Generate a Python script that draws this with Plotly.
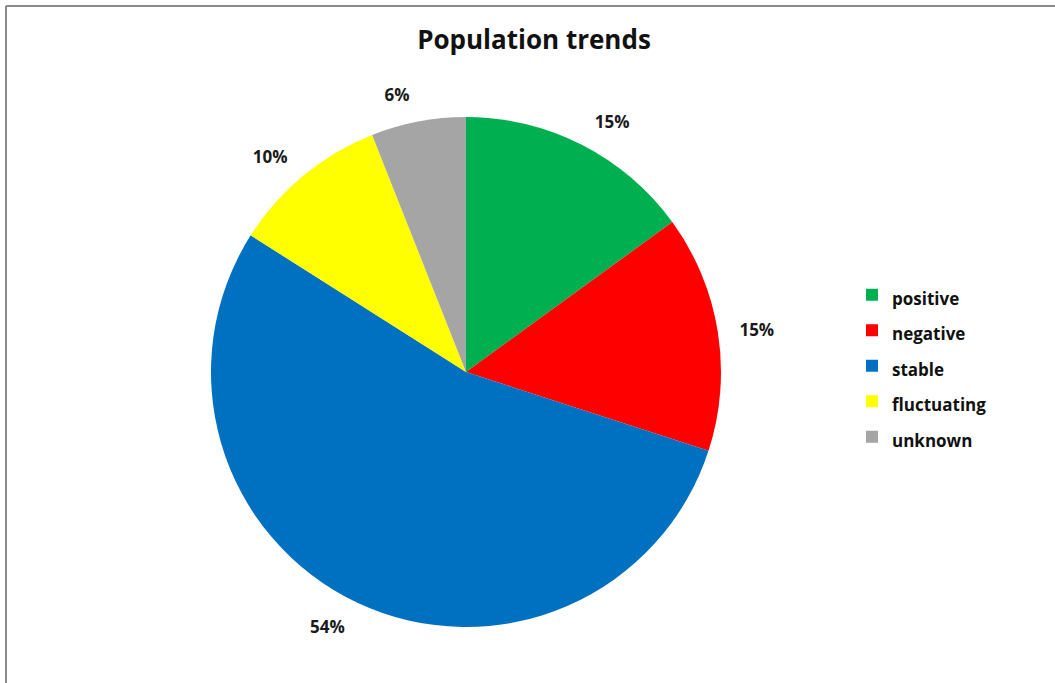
import plotly.graph_objects as go

categories = ["positive", "negative", "stable", "fluctuating", "unknown"]
values = [15, 15, 54, 10, 6]
colors = ["#00B050", "#FF0000", "#0070C0", "#FFFF00", "#A5A5A5"]

W, H = 1055, 683
cx, cy, r = 466, 372, 255
r_lab = 271  # radius of the invisible ring that carries the outside labels

FONT = "Open Sans"
legend_labels = [f"<span style='font-size:17px'>{c}</span>" for c in categories]


def dom(rad):
    return dict(x=[(cx - rad) / W, (cx + rad) / W], y=[1 - (cy + rad) / H, 1 - (cy - rad) / H])


fig = go.Figure()
fig.add_trace(go.Pie(
    labels=legend_labels,
    values=values,
    sort=False,
    direction="clockwise",
    rotation=0,
    marker=dict(colors=colors, line=dict(width=0)),
    textinfo="none",
    domain=dom(r),
    hovertemplate="%{customdata}: %{percent:.0%}<extra></extra>",
    customdata=categories,
))
fig.add_trace(go.Pie(
    labels=legend_labels,
    values=values,
    sort=False,
    direction="clockwise",
    rotation=0,
    marker=dict(colors=["rgba(0,0,0,0)"] * len(values), line=dict(width=0)),
    texttemplate="%{percent:.0%}",
    textposition="outside",
    outsidetextfont=dict(family=FONT, size=17, color="#1a1a1a", weight="bold"),
    domain=dom(r_lab),
    showlegend=False,
    hoverinfo="skip",
))

fig.update_layout(
    width=W, height=H,
    margin=dict(l=0, r=0, t=0, b=0),
    paper_bgcolor="white",
    plot_bgcolor="white",
    title=dict(text="<b>Population trends</b>", x=534 / W, xanchor="center", y=1 - 40 / H, yanchor="middle",
               font=dict(family=FONT, size=26, color="#111111")),
    legend=dict(x=852 / W, y=1 - 272 / H, xanchor="left", yanchor="top",
                font=dict(family=FONT, size=25, color="#111111", weight="bold"),
                bgcolor="rgba(0,0,0,0)"),
    shapes=[
        dict(type="line", xref="paper", yref="paper", x0=6 / W, x1=1, y0=1 - 6 / H, y1=1 - 6 / H,
             line=dict(color="#8a8a8a", width=2)),
        dict(type="line", xref="paper", yref="paper", x0=6 / W, x1=6 / W, y0=0, y1=1 - 6 / H,
             line=dict(color="#8a8a8a", width=2)),
    ],
)

fig.write_html("out.html", config={"displayModeBar": False},
               post_script="document.body.style.margin='0';")
